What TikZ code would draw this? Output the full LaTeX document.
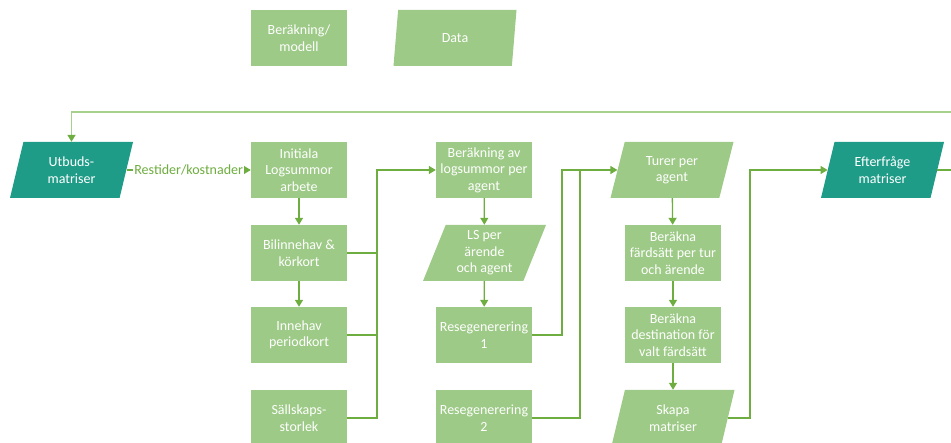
\documentclass[tikz,border=0pt]{standalone}
\usepackage{fontspec}
\setmainfont{Carlito}
\usetikzlibrary{shapes.geometric,arrows.meta,calc}
\definecolor{boxgreen}{HTML}{9DCA86}
\definecolor{darkteal}{HTML}{1F9C88}
\definecolor{linegreen}{HTML}{6EAD3F}
\definecolor{lightgreen}{HTML}{A6D08C}

\begin{document}
\begin{tikzpicture}[x=1pt,y=-1pt,
  calc/.style={rectangle,fill=boxgreen,text=white,align=center,minimum width=96pt,minimum height=56pt,inner sep=0pt,font=\fontsize{14}{16.5}\selectfont},
  data/.style={trapezium,trapezium left angle=63,trapezium right angle=117,trapezium stretches body=true,fill=boxgreen,text=white,align=center,minimum width=123pt,minimum height=56pt,inner sep=0pt,font=\fontsize{14}{16.5}\selectfont},
  mat/.style={data,fill=darkteal},
  conn/.style={draw=linegreen,line width=1.3pt,-{Triangle[length=7pt,width=8pt]}},
  link/.style={draw=linegreen,line width=1.3pt},
  back/.style={draw=lightgreen,line width=1.8pt,-{Triangle[length=7pt,width=8pt,color=linegreen]}}]
\useasboundingbox (0,0) rectangle (951,443);
\node[calc] (legcalc) at (299,38) {Beräkning/\\modell};
\node[data] (legdata) at (455,38) {Data};
\node[mat] (utb) at (71.5,170) {Utbuds-\\matriser};
\node[calc] (init) at (299,170) {Initiala\\Logsummor\\arbete};
\node[calc] (bil) at (299,253) {Bilinnehav \&\\körkort};
\node[calc] (inne) at (299,335) {Innehav\\periodkort};
\node[calc] (sall) at (299,418) {Sällskaps-\\storlek};
\node[calc] (berlog) at (484,170) {Beräkning av\\logsummor per\\agent};
\node[data] (ls) at (484.5,253) {LS per\\ärende\\och agent};
\node[calc] (res1) at (484,335) {Resegenerering\\1};
\node[calc] (res2) at (484,418) {Resegenerering\\2};
\node[data] (turer) at (672,170) {Turer per\\agent};
\node[calc] (fards) at (673,253) {Beräkna\\färdsätt per tur\\och ärende};
\node[calc] (dest) at (673,335) {Beräkna\\destination för\\valt färdsätt};
\node[data] (skapa) at (673,418) {Skapa\\matriser};
\node[mat] (eft) at (882.5,170) {Efterfråge\\matriser};
\coordinate (j1) at (377,418);
\coordinate (j2) at (562,335);
\coordinate (j3) at (580,418);
\coordinate (j4) at (750,418);
\coordinate (loopend) at (951,112);
\draw[conn] (utb.right side) -- node[fill=white,inner sep=1pt,text=linegreen,font=\fontsize{14}{16.5}\selectfont]{Restider/kostnader} (init);
\draw[conn] (init) -- (bil);
\draw[conn] (bil) -- (inne);
\draw[link] (bil.east) -- (bil.east -| j1);
\draw[link] (inne.east) -- (inne.east -| j1);
\draw[conn] (sall.east) -- (j1) |- (berlog.west);
\draw[conn] (berlog) -- (ls);
\draw[conn] (ls) -- (res1);
\draw[conn] (res1.east) -- (j2) |- (turer.left side);
\draw[link] (res2.east) -- (j3) -- (j3 |- turer.left side);
\draw[conn] (turer) -- (fards);
\draw[conn] (fards) -- (dest);
\draw[conn] (dest) -- (skapa);
\draw[conn] (skapa.right side) -- (j4) |- (eft.left side);
\draw[link] (eft.right side) -- (eft.right side -| loopend);
\draw[back] (loopend) -| (utb.north);
\end{tikzpicture}
\end{document}
